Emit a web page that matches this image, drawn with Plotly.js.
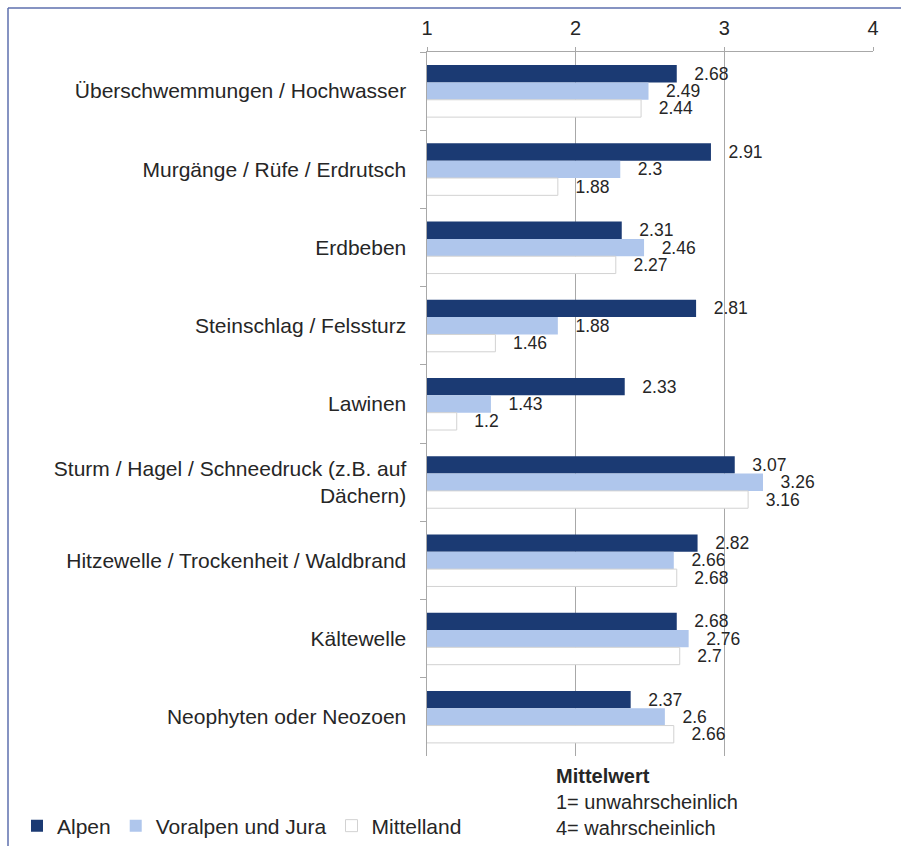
<!DOCTYPE html>
<html>
<head>
<meta charset="utf-8">
<script src="https://cdn.plot.ly/plotly-3.0.1.min.js"></script>
<style>html,body{margin:0;padding:0;background:#fff;}#chart{width:901px;height:846px;}</style>
</head>
<body>
<div id="chart"></div>
<script>
const categories = [
  "Überschwemmungen / Hochwasser",
  "Murgänge / Rüfe / Erdrutsch",
  "Erdbeben",
  "Steinschlag / Felssturz",
  "Lawinen",
  "Sturm / Hagel / Schneedruck (z.B. auf<br>Dächern)",
  "Hitzewelle / Trockenheit / Waldbrand",
  "Kältewelle",
  "Neophyten oder Neozoen"
];
const alpen     = [2.68, 2.91, 2.31, 2.81, 2.33, 3.07, 2.82, 2.68, 2.37];
const voralpen  = [2.49, 2.30, 2.46, 1.88, 1.43, 3.26, 2.66, 2.76, 2.60];
const mittelland= [2.44, 1.88, 2.27, 1.46, 1.20, 3.16, 2.68, 2.70, 2.66];
const seriesNames = ["Alpen", "Voralpen und Jura", "Mittelland"];
const xTicks = [1, 2, 3, 4];

const pad = "\u00a0\u00a0\u00a0";
const txtColor = "#262626";
const fontFam = "Liberation Sans, Arial, sans-serif";

function mk(name, vals, color, line) {
  return {
    type: "bar", orientation: "h", name: name,
    y: categories, x: vals,
    text: vals.map(v => pad + String(v)),
    textposition: "outside", cliponaxis: false, constraintext: "none",
    textfont: {family: fontFam, size: 17.5, color: txtColor},
    marker: {color: color, line: line},
    hoverinfo: "x+y"
  };
}

const data = [
  mk(seriesNames[0], alpen, "#1b3a73", {width: 0}),
  mk(seriesNames[1], voralpen, "#afc6ec", {width: 0}),
  mk(seriesNames[2], mittelland, "#ffffff", {width: 1, color: "#d2d2d2"})
];

const L = 427, R = 28, T = 52, B = 90, W = 901, H = 846;
const pw = W - L - R, ph = H - T - B;
const px = x => (x - L) / pw;
const py = y => (H - B - y) / ph;

const layout = {
  width: W, height: H,
  margin: {l: L, r: R, t: T, b: B, pad: 0, autoexpand: false},
  paper_bgcolor: "#ffffff", plot_bgcolor: "#ffffff",
  font: {family: fontFam, color: txtColor, size: 21},
  barmode: "group", bargap: 0.335, bargroupgap: 0,
  xaxis: {
    side: "top", range: [1, 4], tickvals: xTicks, ticktext: xTicks.map(String),
    showgrid: true, gridcolor: "#a8a8a8", gridwidth: 1,
    showline: true, linecolor: "#a8a8a8", linewidth: 1.5,
    ticks: "outside", ticklen: 4, tickcolor: "#a8a8a8",
    ticklabelstandoff: 4,
    tickfont: {size: 20, color: txtColor},
    zeroline: false, fixedrange: true, automargin: false
  },
  yaxis: {
    type: "category", autorange: "reversed",
    showline: true, linecolor: "#a8a8a8", linewidth: 1.5,
    ticks: "outside", ticklen: 6, tickcolor: "#a8a8a8", tickson: "boundaries",
    ticklabelstandoff: 15,
    showgrid: false, tickfont: {size: 21, color: txtColor}, fixedrange: true, automargin: false
  },
  showlegend: true,
  legend: {
    orientation: "h", x: px(17), xanchor: "left", y: py(826), yanchor: "middle",
    font: {size: 21, color: txtColor}, bgcolor: "rgba(0,0,0,0)", traceorder: "normal"
  },
  annotations: [{
    xref: "paper", yref: "paper", x: px(554), y: py(763), xanchor: "left", yanchor: "top",
    align: "left", showarrow: false,
    text: "<b>Mittelwert</b><br>1= unwahrscheinlich<br>4= wahrscheinlich",
    font: {size: 20, color: txtColor}
  }],
  shapes: [
    {type: "line", xref: "paper", yref: "paper", x0: px(8), x1: px(901), y0: py(8), y1: py(8), line: {color: "#5e6fae", width: 1.5}},
    {type: "line", xref: "paper", yref: "paper", x0: px(8), x1: px(8), y0: py(8), y1: py(846), line: {color: "#5e6fae", width: 1.5}}
  ]
};

Plotly.newPlot("chart", data, layout, {displayModeBar: false, staticPlot: true});
</script>
</body>
</html>
